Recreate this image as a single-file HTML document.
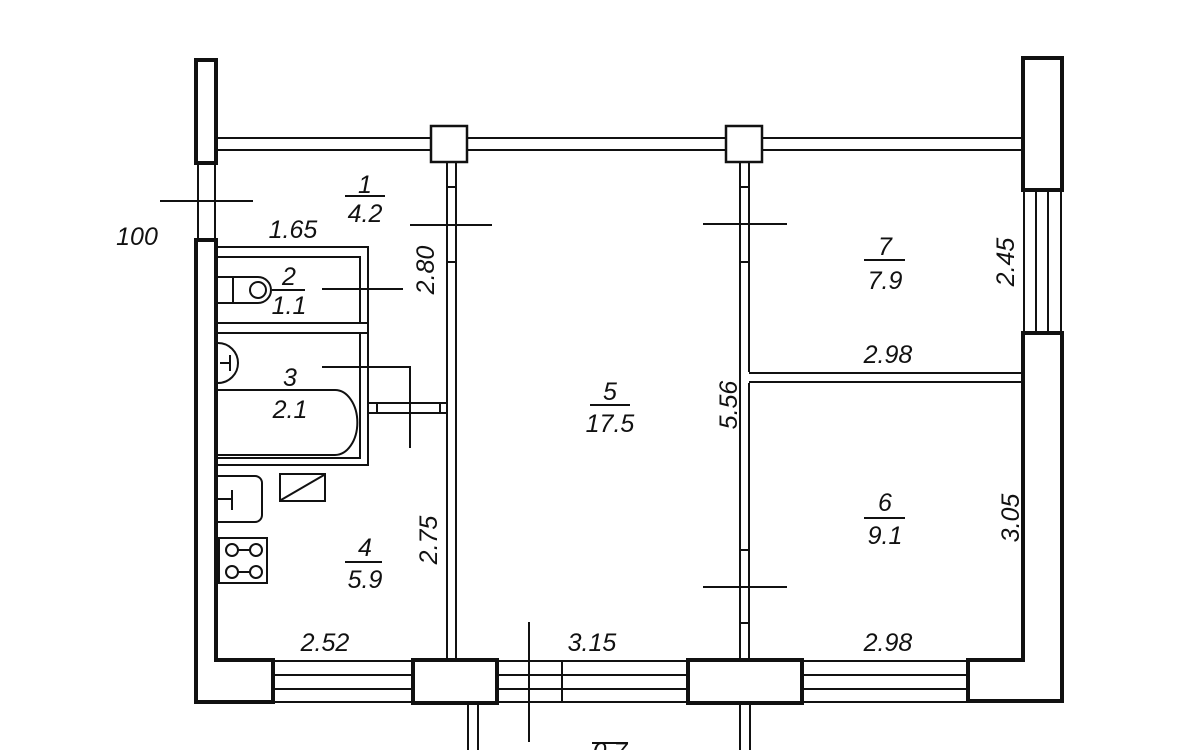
<!DOCTYPE html>
<html><head><meta charset="utf-8"><style>
html,body{margin:0;padding:0;background:#fff;}
svg{display:block}
text{font-family:"Liberation Sans",sans-serif;font-style:italic;font-size:25px;fill:#111;}
</style></head><body>
<svg width="1200" height="750" viewBox="0 0 1200 750" xmlns="http://www.w3.org/2000/svg">
<g fill="none" stroke="#111" stroke-width="2">
<!-- left wall -->
<rect x="196" y="60" width="20" height="103" stroke-width="4" fill="#fff"/>
<line x1="198" y1="163" x2="198" y2="240"/><line x1="215" y1="163" x2="215" y2="240"/>
<path d="M196 240 V702 H273 V660 H216 V240 Z" stroke-width="4" fill="#fff"/>
<!-- top wall -->
<line x1="216" y1="138" x2="1022" y2="138"/><line x1="216" y1="150" x2="1022" y2="150"/>
<rect x="431" y="126" width="36" height="36" fill="#fff" stroke-width="2.5"/>
<rect x="726" y="126" width="36" height="36" fill="#fff" stroke-width="2.5"/>
<!-- right wall -->
<rect x="1023" y="58" width="39" height="132" stroke-width="4" fill="#fff"/>
<line x1="1024" y1="190" x2="1024" y2="333"/><line x1="1036" y1="190" x2="1036" y2="333"/><line x1="1048" y1="190" x2="1048" y2="333"/><line x1="1061" y1="190" x2="1061" y2="333"/>
<path d="M1023 333 V660 H968 V701 H1062 V333 Z" stroke-width="4" fill="#fff"/>
<!-- bottom wall -->
<line x1="273" y1="661" x2="968" y2="661"/><line x1="273" y1="702" x2="968" y2="702"/>
<line x1="273" y1="675" x2="968" y2="675"/><line x1="273" y1="689" x2="968" y2="689"/>
<rect x="413" y="660" width="84" height="43" stroke-width="4" fill="#fff"/>
<rect x="688" y="660" width="114" height="43" stroke-width="4" fill="#fff"/>
<line x1="562" y1="661" x2="562" y2="702"/>
<!-- walls below -->
<line x1="468" y1="703" x2="468" y2="750"/><line x1="478" y1="703" x2="478" y2="750"/>
<line x1="740" y1="703" x2="740" y2="750"/><line x1="750" y1="703" x2="750" y2="750"/>
<line x1="529" y1="622" x2="529" y2="742"/>
<!-- interior wall 1 -->
<line x1="447" y1="162" x2="447" y2="660"/><line x1="456" y1="162" x2="456" y2="660"/>
<line x1="447" y1="187" x2="456" y2="187"/><line x1="447" y1="262" x2="456" y2="262"/>
<line x1="410" y1="225" x2="492" y2="225"/>
<!-- interior wall 2 -->
<line x1="740" y1="162" x2="740" y2="660"/><line x1="749" y1="162" x2="749" y2="372"/><line x1="749" y1="383" x2="749" y2="660"/>
<line x1="740" y1="187" x2="749" y2="187"/><line x1="740" y1="262" x2="749" y2="262"/>
<line x1="703" y1="224" x2="787" y2="224"/>
<line x1="740" y1="550" x2="749" y2="550"/><line x1="740" y1="623" x2="749" y2="623"/>
<line x1="703" y1="587" x2="787" y2="587"/>
<!-- partition 7/6 -->
<line x1="749" y1="373" x2="1023" y2="373"/><line x1="749" y1="382" x2="1023" y2="382"/>
<!-- bathroom block -->
<path d="M216 247 H368 V465 H216"/>
<path d="M216 257 H360 V323 H216"/>
<path d="M216 333 H360 V458 H216"/>
<line x1="360" y1="323" x2="368" y2="323"/><line x1="360" y1="333" x2="368" y2="333"/>
<line x1="368" y1="403" x2="447" y2="403"/><line x1="368" y1="413" x2="447" y2="413"/>
<line x1="377" y1="403" x2="377" y2="413"/><line x1="440" y1="403" x2="440" y2="413"/>
<!-- toilet -->
<path d="M218 277 H258 A13 13 0 0 1 258 303 H218"/>
<line x1="233" y1="277" x2="233" y2="303"/>
<circle cx="258" cy="290" r="8"/>
<!-- washbasin -->
<path d="M218 343 A20 20 0 0 1 218 383"/>
<line x1="220" y1="363" x2="230" y2="363"/><line x1="230" y1="355" x2="230" y2="371"/>
<!-- bath -->
<path d="M218 390 H335 A22 32 0 0 1 335 455 H218"/>
<!-- kitchen -->
<path d="M218 476 H255 A7 7 0 0 1 262 483 V515 A7 7 0 0 1 255 522 H218"/>
<line x1="218" y1="499" x2="232" y2="499"/><line x1="232" y1="490" x2="232" y2="510"/>
<rect x="280" y="474" width="45" height="27"/><line x1="281" y1="500" x2="324" y2="475"/>
<rect x="219" y="538" width="48" height="45"/>
<circle cx="232" cy="550" r="6"/><circle cx="256" cy="550" r="6"/>
<circle cx="232" cy="572" r="6"/><circle cx="256" cy="572" r="6"/>
<line x1="238" y1="550" x2="250" y2="550"/><line x1="238" y1="572" x2="250" y2="572"/>
<!-- dims -->
<line x1="160" y1="201" x2="253" y2="201"/>
<line x1="322" y1="289" x2="403" y2="289"/>
<path d="M322 367 H410 V448"/>
<!-- fraction bars -->
<line x1="345" y1="196" x2="385" y2="196"/>
<line x1="272" y1="290" x2="305" y2="290"/>
<line x1="270" y1="390" x2="307" y2="390"/>
<line x1="590" y1="405" x2="630" y2="405"/>
<line x1="864" y1="260" x2="905" y2="260"/>
<line x1="864" y1="518" x2="905" y2="518"/>
<line x1="345" y1="562" x2="382" y2="562"/>
<line x1="592" y1="743" x2="628" y2="743"/>
</g>
<g text-anchor="middle">
<text x="137" y="245">100</text>
<text x="365" y="193">1</text><text x="365" y="222">4.2</text>
<text x="293" y="238">1.65</text>
<text x="289" y="285">2</text><text x="289" y="314">1.1</text>
<text x="290" y="386">3</text><text x="290" y="418">2.1</text>
<text x="610" y="400">5</text><text x="610" y="432">17.5</text>
<text x="885" y="255">7</text><text x="885" y="289">7.9</text>
<text x="888" y="363">2.98</text>
<text x="885" y="511">6</text><text x="885" y="544">9.1</text>
<text x="365" y="556">4</text><text x="365" y="588">5.9</text>
<text x="325" y="651">2.52</text>
<text x="592" y="651">3.15</text>
<text x="888" y="651">2.98</text>
<text transform="translate(434,270) rotate(-90)">2.80</text>
<text transform="translate(737,405) rotate(-90)">5.56</text>
<text transform="translate(1014,262) rotate(-90)">2.45</text>
<text transform="translate(1019,518) rotate(-90)">3.05</text>
<text transform="translate(437,540) rotate(-90)">2.75</text>
<text x="610" y="760">0.7</text>
</g>
</svg>
</body></html>
